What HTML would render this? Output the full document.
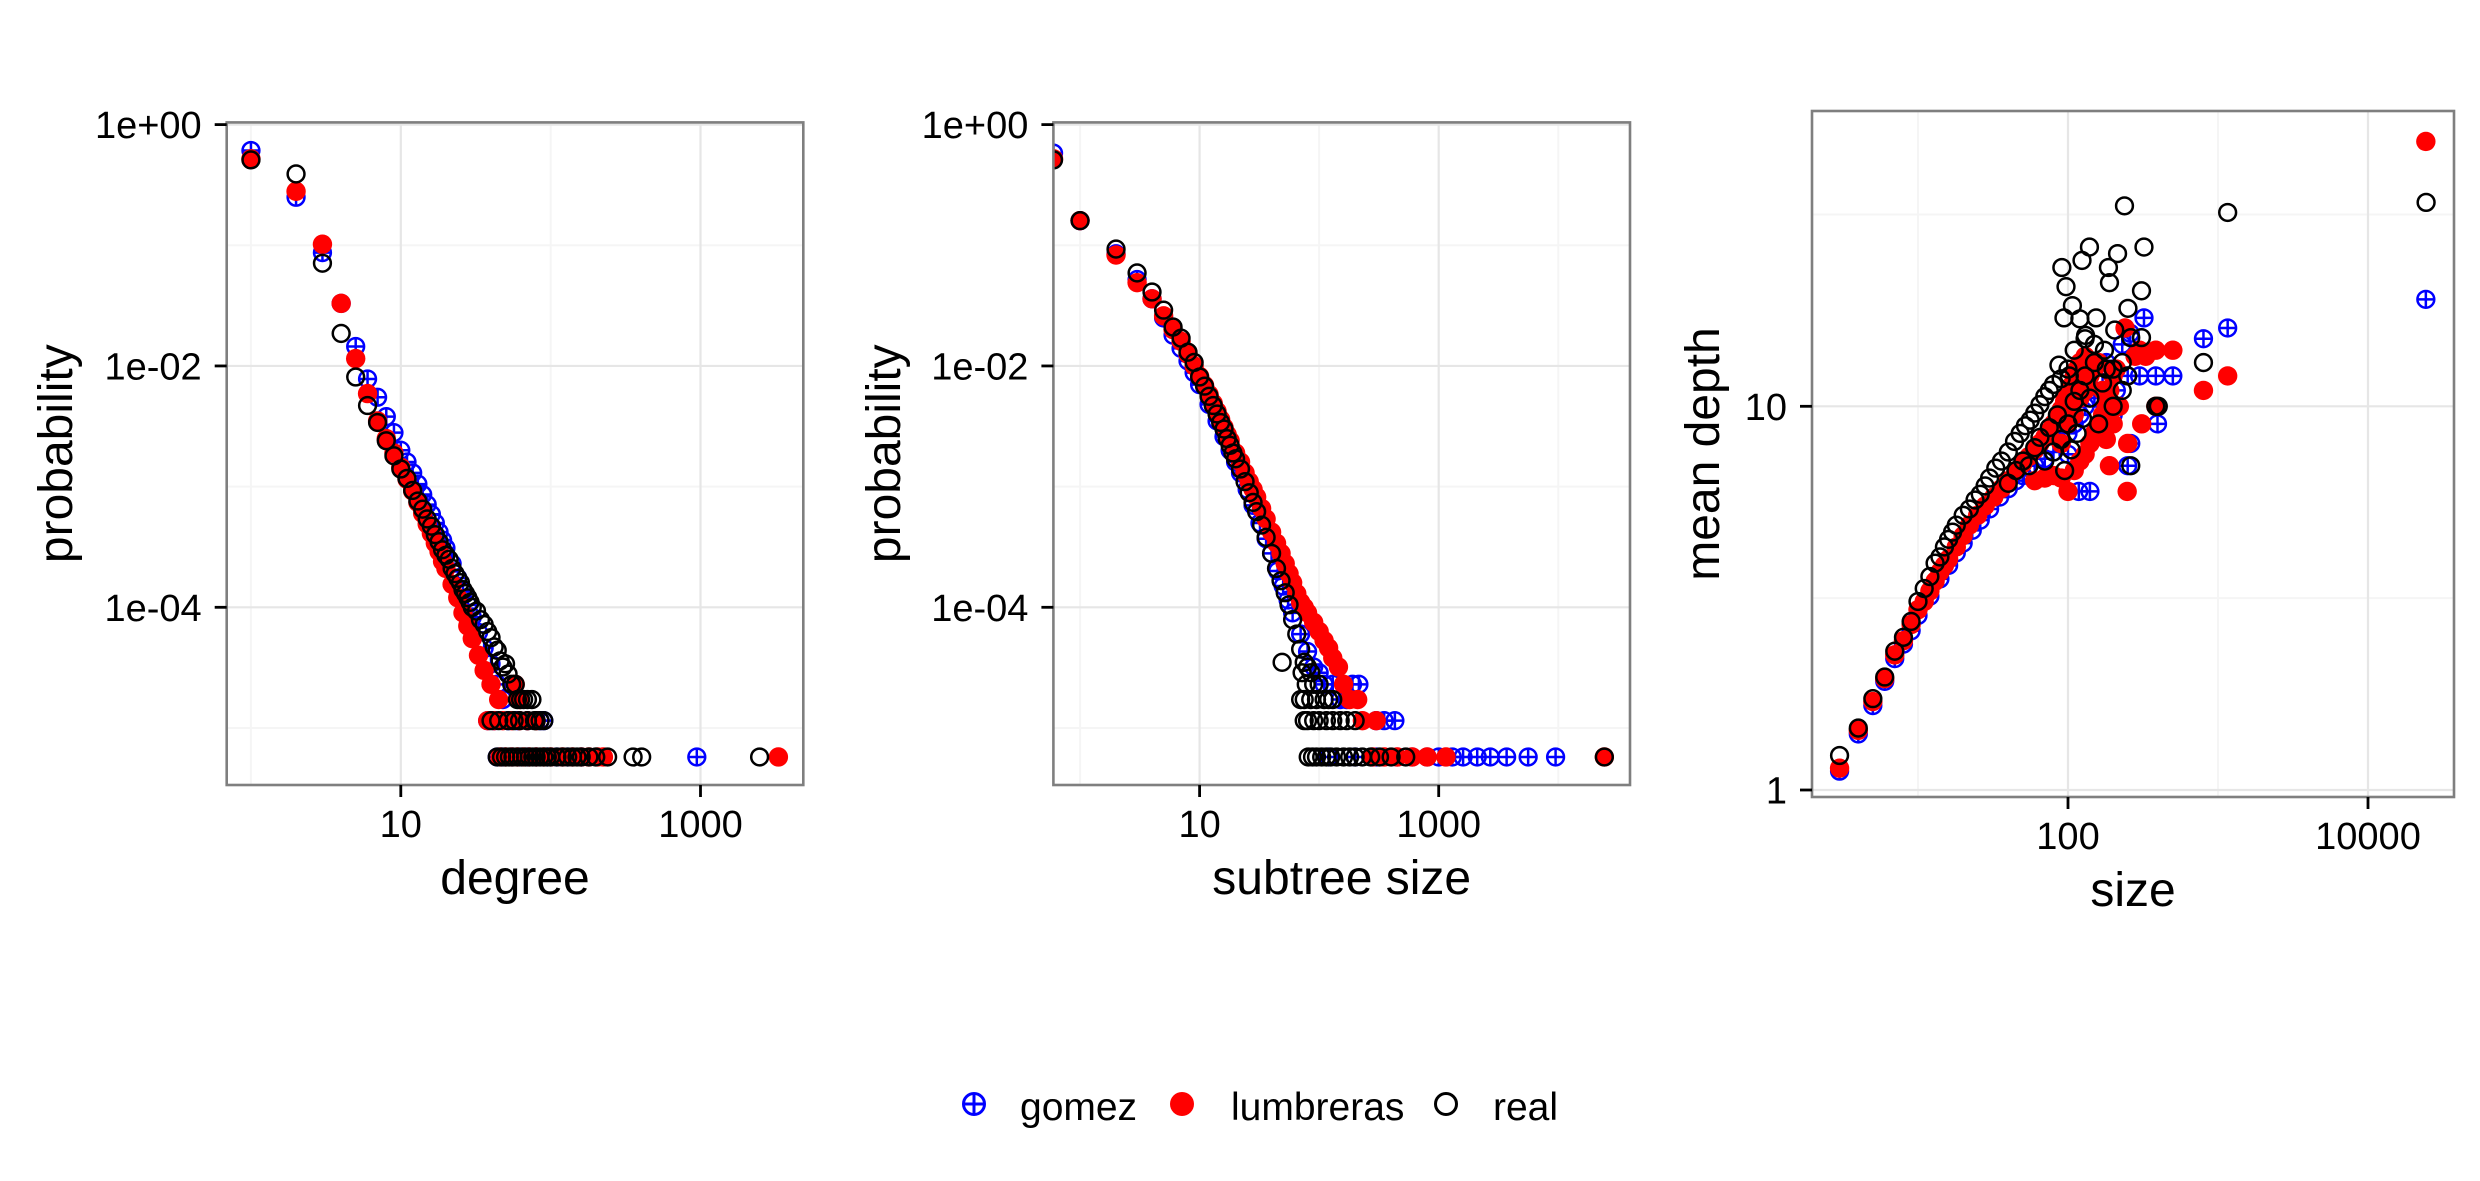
<!DOCTYPE html>
<html><head><meta charset="utf-8"><style>
html,body{margin:0;padding:0;background:#fff;}
svg{display:block;font-family:"Liberation Sans",Arial,sans-serif;}
</style></head><body>
<svg id="fig" width="2480" height="1181" viewBox="0 0 2480 1181" xmlns="http://www.w3.org/2000/svg">
<rect x="0" y="0" width="2480" height="1181" fill="#fff"/>
<defs>
<clipPath id="c1"><rect x="226.7" y="122.4" width="576.6" height="662.6"/></clipPath>
<clipPath id="c2"><rect x="1053.4" y="122.4" width="576.6" height="662.6"/></clipPath>
<clipPath id="c3"><rect x="1812" y="111" width="642" height="686"/></clipPath>
</defs>
<g>
  <g>
    <circle cx="974" cy="1104" r="10.5" fill="none" stroke="#0000ff" stroke-width="3"/>
    <line x1="963.5" y1="1104" x2="984.5" y2="1104" stroke="#0000ff" stroke-width="3"/>
    <line x1="974" y1="1093.5" x2="974" y2="1114.5" stroke="#0000ff" stroke-width="3"/>
    <text x="1020" y="1120" font-size="39" fill="#000">gomez</text>
  </g>
  <g>
    <circle cx="1182" cy="1104" r="12" fill="#ff0000"/>
    <text x="1231" y="1120" font-size="39" fill="#000">lumbreras</text>
  </g>
  <g>
    <circle cx="1446" cy="1104" r="10.5" fill="none" stroke="#000" stroke-width="3"/>
    <text x="1493" y="1120" font-size="39" fill="#000">real</text>
  </g>
</g>
</svg>
<script>
// ---------- Panel 1: degree distribution ----------
const degTicks = [10, 1000];
const degTickLabels = ['10', '1000'];
const degMinor = [1, 100];
const probTicks = [1, 1e-2, 1e-4];
const probTickLabels = ['1e+00', '1e-02', '1e-04'];
const probMinor = [1e-1, 1e-3, 1e-5];
const degGomez = [[1,0.61],[2,0.25],[3,0.087],[4,0.033],[5,0.0145],[6,0.0078],[7,0.0055],[8,0.0038],[9,0.0028],[10,0.002],[11,0.0016],[12,0.0013],[13,0.00105],[14,8.6e-4],[15,7.1e-4],[16,5.9e-4],[17,5.0e-4],[18,4.2e-4],[19,3.6e-4],[20,3.1e-4],[22,2.3e-4],[24,1.75e-4],[26,1.35e-4],[28,1.05e-4],[30,8.3e-5],[33,6.2e-5],[36,4.6e-5],[40,3.4e-5],[44,2.3e-5],[48,1.72e-5],[52,1.15e-5],[38,1.15e-5],[42,1.15e-5],[60,1.15e-5],[70,1.15e-5],[85,1.15e-5],[90,1.15e-5],[44,5.75e-6],[48,5.75e-6],[55,5.75e-6],[62,5.75e-6],[70,5.75e-6],[80,5.75e-6],[95,5.75e-6],[110,5.75e-6],[130,5.75e-6],[160,5.75e-6],[945,5.75e-6]];
const degLumbreras = [[1,0.52],[2,0.28],[3,0.102],[4,0.033],[5,0.0115],[6,0.0059],[7,0.0035],[8,0.0025],[9,0.0019],[10,0.00145],[11,0.00115],[12,9.2e-4],[13,7.4e-4],[14,6.0e-4],[15,4.9e-4],[16,4.1e-4],[17,3.4e-4],[18,2.9e-4],[19,2.4e-4],[20,2.1e-4],[22,1.55e-4],[24,1.2e-4],[26,9e-5],[28,7e-5],[30,5.5e-5],[33,4e-5],[36,3e-5],[40,2.3e-5],[45,1.72e-5],[58,2.3e-5],[62,1.72e-5],[38,1.15e-5],[42,1.15e-5],[48,1.15e-5],[55,1.15e-5],[62,1.15e-5],[70,1.15e-5],[80,1.15e-5],[46,5.75e-6],[50,5.75e-6],[55,5.75e-6],[60,5.75e-6],[66,5.75e-6],[72,5.75e-6],[80,5.75e-6],[90,5.75e-6],[100,5.75e-6],[120,5.75e-6],[140,5.75e-6],[160,5.75e-6],[180,5.75e-6],[205,5.75e-6],[225,5.75e-6],[3310,5.75e-6]];
const degReal = [[1,0.51],[2,0.39],[3,0.071],[4,0.0186],[5,0.0081],[6,0.0047],[7,0.0034],[8,0.0024],[9,0.0018],[10,0.0014],[11,0.00117],[12,9.3e-4],[13,7.6e-4],[14,6.5e-4],[15,5.4e-4],[16,4.7e-4],[17,4.0e-4],[18,3.5e-4],[19,3.0e-4],[20,2.7e-4],[21,2.5e-4],[22,2.1e-4],[23,1.9e-4],[24,1.74e-4],[25,1.6e-4],[26,1.4e-4],[27,1.3e-4],[28,1.2e-4],[29,1.1e-4],[30,1.0e-4],[32,9.3e-5],[34,7.9e-5],[36,7.2e-5],[38,6.3e-5],[40,5.6e-5],[42,4.7e-5],[44,4.4e-5],[46,3.6e-5],[48,3.2e-5],[50,3.4e-5],[52,2.8e-5],[55,2.3e-5],[58,2.3e-5],[60,1.72e-5],[63,1.72e-5],[66,1.72e-5],[70,1.72e-5],[75,1.72e-5],[80,1.15e-5],[40,1.15e-5],[45,1.15e-5],[52,1.15e-5],[57,1.15e-5],[62,1.15e-5],[70,1.15e-5],[78,1.15e-5],[85,1.15e-5],[90,1.15e-5],[44,5.75e-6],[47,5.75e-6],[50,5.75e-6],[53,5.75e-6],[56,5.75e-6],[60,5.75e-6],[64,5.75e-6],[68,5.75e-6],[72,5.75e-6],[76,5.75e-6],[80,5.75e-6],[85,5.75e-6],[90,5.75e-6],[95,5.75e-6],[100,5.75e-6],[110,5.75e-6],[120,5.75e-6],[130,5.75e-6],[140,5.75e-6],[150,5.75e-6],[160,5.75e-6],[180,5.75e-6],[200,5.75e-6],[240,5.75e-6],[355,5.75e-6],[405,5.75e-6],[2480,5.75e-6]];

// ---------- Panel 2: subtree size distribution ----------
const subTicks = [10, 1000];
const subTickLabels = ['10', '1000'];
const subMinor = [1, 100, 10000];
const subGomez = [[0.6,0.58],[1,0.16],[2,0.085],[3,0.052],[4,0.036],[5,0.025],[6,0.018],[7,0.014],[8,0.011],[9,0.0088],[10,0.0070],[12,0.0048],[14,0.0035],[16,0.0026],[18,0.0020],[20,0.0016],[22,0.0013],[25,9.5e-4],[28,7e-4],[32,5e-4],[36,3.7e-4],[40,2.8e-4],[45,2e-4],[50,1.5e-4],[55,1.15e-4],[60,9e-5],[70,6e-5],[80,4.3e-5],[90,3.2e-5],[100,2.87e-5],[110,2.3e-5],[130,2.3e-5],[190,2.3e-5],[215,2.3e-5],[150,1.72e-5],[170,1.72e-5],[300,1.15e-5],[350,1.15e-5],[430,1.15e-5],[120,5.75e-6],[200,5.75e-6],[300,5.75e-6],[450,5.75e-6],[600,5.75e-6],[800,5.75e-6],[1000,5.75e-6],[1300,5.75e-6],[1600,5.75e-6],[2100,5.75e-6],[2700,5.75e-6],[3700,5.75e-6],[5600,5.75e-6],[9500,5.75e-6]];
const subLumbreras = [[0.6,0.52],[1,0.16],[2,0.083],[3,0.049],[4,0.036],[5,0.026],[6,0.020],[7,0.016],[8,0.0125],[9,0.010],[10,0.0082],[11,0.0069],[12,0.0058],[13,0.0049],[14,0.0042],[15,0.0036],[16,0.0031],[17,0.0027],[18,0.0024],[20,0.0019],[22,0.0016],[24,0.0013],[26,0.0011],[28,9.5e-4],[30,8.2e-4],[33,6.6e-4],[36,5.4e-4],[40,4.2e-4],[44,3.4e-4],[48,2.8e-4],[52,2.3e-4],[56,1.9e-4],[60,1.6e-4],[65,1.3e-4],[70,1.1e-4],[75,1e-4],[80,9e-5],[90,7.5e-5],[100,6.3e-5],[110,5.3e-5],[120,4.6e-5],[130,3.8e-5],[145,3.2e-5],[160,2.3e-5],[180,1.72e-5],[210,1.72e-5],[230,1.15e-5],[300,1.15e-5],[280,5.75e-6],[350,5.75e-6],[450,5.75e-6],[600,5.75e-6],[800,5.75e-6],[1150,5.75e-6],[24300,5.75e-6]];
const subReal = [[0.6,0.51],[1,0.16],[2,0.093],[3,0.059],[4,0.041],[5,0.029],[6,0.021],[7,0.017],[8,0.013],[9,0.0107],[10,0.0081],[11,0.0068],[12,0.0056],[13,0.0047],[14,0.0040],[15,0.0034],[16,0.0030],[17,0.0025],[18,0.0022],[19,0.0019],[20,0.0017],[22,0.0014],[24,0.0011],[26,8.9e-4],[28,7.4e-4],[30,6.2e-4],[33,4.8e-4],[36,3.8e-4],[40,2.8e-4],[44,2.1e-4],[48,1.66e-4],[52,1.32e-4],[56,1.05e-4],[60,7.9e-5],[65,6.0e-5],[70,4.5e-5],[75,3.5e-5],[80,3.2e-5],[49,3.5e-5],[72,2.87e-5],[85,2.87e-5],[78,2.3e-5],[90,2.3e-5],[100,2.3e-5],[70,1.72e-5],[75,1.72e-5],[85,1.72e-5],[95,1.72e-5],[110,1.72e-5],[120,1.72e-5],[130,1.72e-5],[75,1.15e-5],[80,1.15e-5],[90,1.15e-5],[100,1.15e-5],[115,1.15e-5],[130,1.15e-5],[150,1.15e-5],[170,1.15e-5],[200,1.15e-5],[81,5.75e-6],[88,5.75e-6],[95,5.75e-6],[105,5.75e-6],[115,5.75e-6],[125,5.75e-6],[140,5.75e-6],[160,5.75e-6],[180,5.75e-6],[200,5.75e-6],[230,5.75e-6],[270,5.75e-6],[320,5.75e-6],[400,5.75e-6],[530,5.75e-6],[24300,5.75e-6]];

// ---------- Panel 3: size vs mean depth ----------
const sizeTicks = [100, 10000];
const sizeTickLabels = ['100', '10000'];
const sizeMinor = [10, 1000];
const depthTicks = [1, 10];
const depthTickLabels = ['1', '10'];
const depthMinor = [3.162, 31.62];
const mdGomez = [[3,1.12],[4,1.4],[5,1.66],[6,1.92],[7,2.2],[8,2.4],[9,2.6],[10,2.85],[12,3.2],[14,3.55],[16,3.85],[18,4.15],[20,4.4],[23,4.75],[26,5.05],[30,5.4],[35,5.8],[40,6.1],[45,6.4],[50,6.6],[60,7],[70,7.3],[80,7.6],[90,8],[100,8.5],[110,9],[120,9.5],[130,10],[150,10.5],[170,11.5],[190,12.5],[250,12],[300,12],[385,12],[500,12],[118,6],[140,6],[250,7],[262,8],[321,17],[800,15],[1160,16],[395,9],[24300,19],[230,14.5],[260,15.5],[100,7.5],[150,8.5],[200,9.5],[180,13],[210,11]];
const mdLumbreras = [[3,1.14],[4,1.43],[5,1.7],[6,1.95],[7,2.25],[8,2.45],[9,2.7],[10,2.95],[11,3.1],[12,3.3],[13,3.5],[14,3.7],[15,3.85],[16,4.0],[18,4.3],[20,4.6],[22,4.9],[25,5.2],[28,5.5],[32,5.8],[36,6.1],[40,6.4],[45,6.8],[50,7.1],[55,7.4],[60,7.7],[65,8],[70,8.3],[75,8.6],[80,9],[85,9.4],[90,9.8],[95,10.3],[100,10.8],[105,11.3],[110,12],[115,12.5],[120,13],[60,6.4],[70,6.5],[80,6.6],[90,6.5],[100,6.0],[110,6.8],[120,7.2],[130,7.5],[140,8],[150,8.5],[160,9],[170,9.5],[180,10],[190,11],[200,12],[210,12.5],[90,8],[100,9],[110,9.5],[120,10.5],[130,11],[140,12],[150,12.5],[160,13],[170,11],[180,8.2],[200,9],[220,10],[189,7.0],[248,6.0],[280,13.5],[300,14],[330,13.5],[385,14],[500,14],[385,10],[310,9],[250,8],[800,11],[1160,12],[24300,49],[240,16],[130,13.5]];
const mdReal = [[3,1.23],[4,1.45],[5,1.73],[6,1.97],[7,2.3],[8,2.5],[9,2.75],[10,3.1],[11,3.35],[12,3.6],[13,3.9],[14,4.05],[15,4.3],[16,4.5],[17,4.7],[18,4.9],[20,5.2],[22,5.4],[24,5.7],[26,5.9],[28,6.2],[30,6.5],[33,6.9],[36,7.2],[40,7.6],[44,8.1],[48,8.5],[52,8.9],[56,9.2],[60,9.6],[65,10.1],[70,10.6],[75,11],[80,11.4],[90,11.8],[100,12.5],[40,6.3],[45,6.8],[50,7.2],[55,7.0],[60,7.8],[65,8.3],[70,7.2],[75,8.8],[80,7.6],[85,9.5],[90,8.2],[95,6.8],[100,9.0],[105,7.7],[110,10.3],[115,8.5],[120,11],[125,9.3],[130,12],[140,10.5],[150,13],[160,9],[170,11.5],[180,12.5],[200,10],[230,13],[262,7],[250,12],[400,10],[150,14.5],[130,15],[110,14],[87,12.8],[102,12],[238,33.3],[1160,32],[24400,34],[139,26],[124,24],[91,23],[97,20.5],[186,23],[214,25],[321,26],[189,21],[309,20],[107,18.3],[94,17],[120,16.9],[154,17],[131,15.3],[205,15.8],[251,18],[262,15.1],[309,15.1],[800,13],[385,10],[175,14],[230,11],[200,12.5]];

const NS = 'http://www.w3.org/2000/svg';
const svg = document.getElementById('fig');
function el(tag, attrs, parent) {
  const e = document.createElementNS(NS, tag);
  for (const k in attrs) e.setAttribute(k, attrs[k]);
  (parent || svg).appendChild(e);
  return e;
}
function logScale(v1, p1, v2, p2) {
  const b = (p2 - p1) / (Math.log10(v2) - Math.log10(v1));
  return v => p1 + b * (Math.log10(v) - Math.log10(v1));
}

function drawPanel(cfg) {
  const g = el('g', {});
  
  
  const {L, R, T, B, sx, sy} = cfg;
  const bg = el('rect', {x: L, y: T, width: R - L, height: B - T, fill: '#fff'}, g);
  
  
  // minor grid
  cfg.xMinor.forEach(v => {
    const x = sx(v);
    if (x > L && x < R) {
      const l = el('line', {x1: x, x2: x, y1: T, y2: B, stroke: '#f5f5f5', 'stroke-width': 2}, g);
      
      
    }
  });
  cfg.yMinor.forEach(v => {
    const y = sy(v);
    if (y > T && y < B) {
      const l = el('line', {x1: L, x2: R, y1: y, y2: y, stroke: '#f5f5f5', 'stroke-width': 2}, g);
      
      
    }
  });
  cfg.xTicks.forEach(v => {
    const x = sx(v);
    const l = el('line', {x1: x, x2: x, y1: T, y2: B, stroke: '#e6e6e6', 'stroke-width': 2.2}, g);
    
    
  });
  cfg.yTicks.forEach(v => {
    const y = sy(v);
    const l = el('line', {x1: L, x2: R, y1: y, y2: y, stroke: '#e6e6e6', 'stroke-width': 2.2}, g);
    
    
  });
  // points
  const pg = el('g', {'clip-path': 'url(#' + cfg.clip + ')'}, g);
  
  
  cfg.gomez.forEach(d => {
    const x = sx(d[0]), y = sy(d[1]);
    const m = el('g', {}, pg);
    
    
    el('circle', {cx: x, cy: y, r: 8.4, fill: 'none', stroke: '#0000ff', 'stroke-width': 2.5}, m);
    el('line', {x1: x - 8.4, x2: x + 8.4, y1: y, y2: y, stroke: '#0000ff', 'stroke-width': 2.5}, m);
    el('line', {x1: x, x2: x, y1: y - 8.4, y2: y + 8.4, stroke: '#0000ff', 'stroke-width': 2.5}, m);
  });
  cfg.lumbreras.forEach(d => {
    const c = el('circle', {cx: sx(d[0]), cy: sy(d[1]), r: 9.7, fill: '#ff0000'}, pg);
    
    
  });
  cfg.real.forEach(d => {
    const c = el('circle', {cx: sx(d[0]), cy: sy(d[1]), r: 8.4, fill: 'none', stroke: '#000', 'stroke-width': 2.5}, pg);
    
    
  });
  const border = el('rect', {x: L, y: T, width: R - L, height: B - T, fill: 'none', stroke: '#7f7f7f', 'stroke-width': 2.6}, g);
  
  
  // x ticks
  cfg.xTicks.forEach((v, i) => {
    const x = sx(v);
    const t = el('line', {x1: x, x2: x, y1: B, y2: B + 12, stroke: '#000', 'stroke-width': 2.8}, g);
    
    
    const tx = el('text', {x: x, y: B + 52, 'font-size': 38, 'text-anchor': 'middle', fill: '#000'}, g);
    tx.textContent = cfg.xLabels[i];
    
    
  });
  cfg.yTicks.forEach((v, i) => {
    const y = sy(v);
    const t = el('line', {x1: L - 12, x2: L, y1: y, y2: y, stroke: '#000', 'stroke-width': 2.8}, g);
    
    
    const tx = el('text', {x: L - 25, y: y + 13.5, 'font-size': 38, 'text-anchor': 'end', fill: '#000'}, g);
    tx.textContent = cfg.yLabels[i];
    
    
  });
  const xt = el('text', {x: (L + R) / 2, y: B + 109, 'font-size': 48, 'text-anchor': 'middle', fill: '#000'}, g);
  xt.textContent = cfg.xTitle;
  
  
  const yc = (T + B) / 2;
  const yt = el('text', {x: cfg.yTitleX, y: yc, 'font-size': 48, 'text-anchor': 'middle', fill: '#000', transform: 'rotate(-90 ' + cfg.yTitleX + ' ' + yc + ')'}, g);
  yt.textContent = cfg.yTitle;
  
  
}

const probScale = logScale(1, 124.6, 1e-4, 607.3);
drawPanel({name: 'degree-panel', clip: 'c1', L: 226.7, R: 803.3, T: 122.4, B: 785,
  sx: logScale(10, 400.8, 1000, 700.5), sy: probScale,
  xTicks: degTicks, xLabels: degTickLabels, xMinor: degMinor,
  yTicks: probTicks, yLabels: probTickLabels, yMinor: probMinor,
  gomez: degGomez, lumbreras: degLumbreras, real: degReal,
  xTitle: 'degree', yTitle: 'probability', yTitleX: 72});
drawPanel({name: 'subtree-size-panel', clip: 'c2', L: 1053.4, R: 1630, T: 122.4, B: 785,
  sx: logScale(10, 1199.6, 1000, 1438.7), sy: probScale,
  xTicks: subTicks, xLabels: subTickLabels, xMinor: subMinor,
  yTicks: probTicks, yLabels: probTickLabels, yMinor: probMinor,
  gomez: subGomez, lumbreras: subLumbreras, real: subReal,
  xTitle: 'subtree size', yTitle: 'probability', yTitleX: 900});
drawPanel({name: 'mean-depth-panel', clip: 'c3', L: 1812, R: 2454, T: 111, B: 797,
  sx: logScale(100, 2068, 10000, 2368), sy: logScale(1, 790, 10, 406.3),
  xTicks: sizeTicks, xLabels: sizeTickLabels, xMinor: sizeMinor,
  yTicks: depthTicks, yLabels: depthTickLabels, yMinor: depthMinor,
  gomez: mdGomez, lumbreras: mdLumbreras, real: mdReal,
  xTitle: 'size', yTitle: 'mean depth', yTitleX: 1719});
</script>
</body></html>
